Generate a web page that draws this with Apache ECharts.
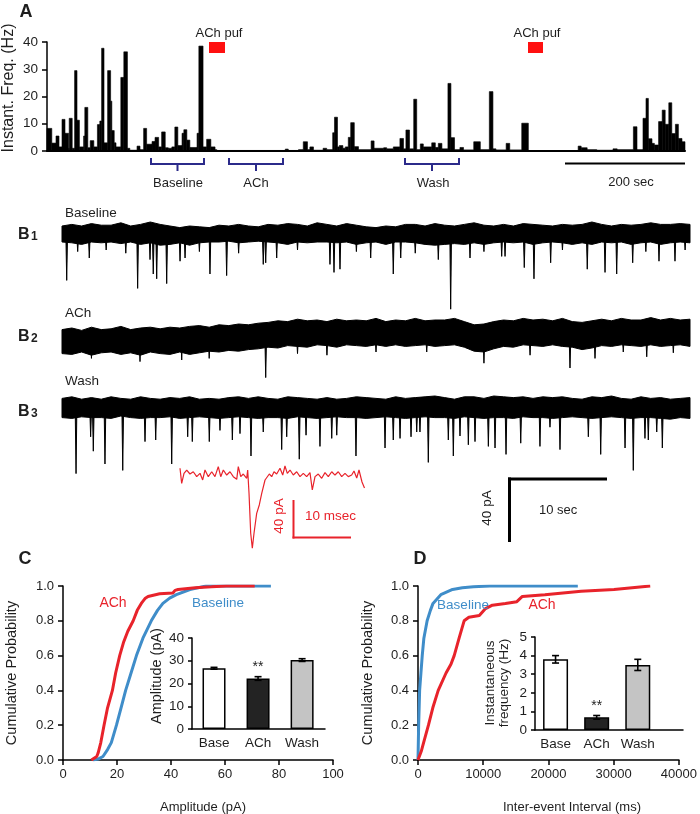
<!DOCTYPE html>
<html><head><meta charset="utf-8">
<script src="https://cdn.jsdelivr.net/npm/echarts@6/dist/echarts.min.js"></script>
<style>html,body{margin:0;padding:0;background:#fff}#c{width:700px;height:814px}</style>
</head><body><div id="c"></div>
<script>
// ---------- DATA ----------
// Panel A: instantaneous frequency steps [time (s), Hz] (value holds until next time)
const freqSteps = [[0,8.3],[8,2.9],[15,5.5],[20,1.5],[25,11.6],[30,6.5],[36,1.0],[37,12],[42,1.0],[46,29.5],[50,11.3],[54,1.5],[61,5.5],[63,16],[68,1.2],[72,3.8],[78,1.5],[84,9.7],[88,11],[91,37.7],[95,3],[101,29.5],[106,18.3],[108,7.5],[112,3],[115,1.5],[123,27],[128,36.4],[134,1],[138,0.3],[150,1.8],[155,0.5],[161,8.3],[166,2.5],[175,3.5],[180,5],[186,1.5],[191,7],[197,1.2],[202,1],[208,1.5],[213,8.8],[218,2],[225,6.5],[228,7.8],[233,4],[238,1.3],[250,6.5],[253,38.5],[260,1.5],[266,4.3],[273,1.5],[280,0.5],[283,0.2],[397,0.7],[402,0.2],[419,0.5],[427,3.4],[434,0.5],[438,1.5],[444,0.3],[460,1],[466,0.5],[476,6.7],[479,12.4],[484,1.5],[487,2],[493,1],[497,1.5],[502,5],[506,10.4],[512,1.6],[519,0.5],[540,3.7],[545,1],[561,1.2],[566,0.8],[577,1.5],[588,4.6],[594,0.8],[598,7.7],[604,0.8],[611,19],[616,0.5],[622,2.6],[627,1.5],[641,3],[647,1.3],[652,2.8],[658,0.8],[668,24.8],[673,4.9],[679,0.5],[688,1.3],[694,0.4],[711,3.4],[722,0.5],[737,21.8],[743,0.8],[748,0.4],[765,2.8],[771,0.4],[791,10.2],[802,0.1],[885,1.8],[890,1.2],[900,0.5],[916,0.3],[943,0.8],[950,0.5],[977,8.9],[983,0.5],[993,12],[998,19.3],[1002,4.5],[1008,2.8],[1012,2.2],[1019,10.8],[1025,15],[1030,9.8],[1036,17.7],[1041,6.4],[1047,9.8],[1052,4.6],[1058,3.4],[1063,0]];

// Panel B traces: noise envelope (pA) sampled every 1 s (0..64 s), events [time s, peak pA]
const b1Upper = [5,6,5,6.5,5.5,5.5,7,5,6,7.5,6,5,4,5,4.5,4,5.5,5,6,5,4.5,6,5.5,6.5,6,5,7,6,5,6.5,5.5,4.5,4,5,4.5,6,6,5,6.5,5.5,5,6,7,5.5,5,6,5,6.5,6,5.5,5,6,5.5,6,7.5,6,5,6,5.5,6,7,6,6,6.5,6];
const b1Lower = [-5,-5.5,-6.5,-5,-5.5,-5,-6,-5,-6.5,-5.5,-7,-6.5,-5.5,-7,-5.5,-5,-5,-4.5,-5.5,-5,-4.5,-5,-5.5,-6.5,-5,-5.5,-5,-5,-5.5,-5,-6.5,-5.5,-5,-6.5,-5,-5,-5.5,-6.5,-7,-6.5,-6,-6.5,-5.5,-6.5,-5.5,-5,-5.5,-5,-6.5,-5.5,-5,-5.5,-6.5,-5.5,-6.5,-5,-5.5,-5,-6.5,-5.5,-5,-6.5,-5.5,-5,-5.5];
const b1Events = [[0.48,-29],[1.6,-11],[2.78,-15],[4.5,-10],[6.5,-12],[7.71,-34],[8.97,-16],[9.3,-25],[9.65,-28],[10.67,-31],[12.03,-17],[12.54,-15],[14,-11],[15.08,-25],[16.78,-26],[18,-12],[20.51,-19],[20.76,-18],[21.88,-15],[24,-10],[27.31,-19],[27.72,-24],[28.33,-22],[30,-11],[31.46,-15],[33.76,-25],[34.52,-15],[36,-12],[38.35,-16],[39.61,-47],[41.58,-15],[43,-11],[44.81,-14],[45.15,-14],[47.11,-21],[48.1,-28],[49.8,-18],[51,-10],[53.53,-22],[55.34,-24],[56.53,-25],[58.16,-18],[59.5,-11],[60.84,-17],[62.47,-17],[63.5,-10]];

const b2Upper = [4,5,3.5,5.5,4,4.5,6,4,5,5.5,4.5,5.5,5,6,6.5,5.5,7,6.5,7.5,7,8,8.5,9.5,9,10.5,9.5,10,9,10.5,9.5,10,9.5,11,9,10,9.5,11,9.5,10,10,11,9,7,7.5,9,10,9.5,11,10,10.5,9.5,11,9,8.5,9.5,10.5,9.5,11,10,10,11.5,10,11,10,10.5];
const b2Lower = [-11,-11.5,-10,-12,-10.5,-10,-11.5,-10.5,-12,-10,-11,-11.5,-10,-11.5,-10.5,-9.5,-10,-9,-9.5,-8.5,-8,-7,-7.5,-6,-6.5,-7,-5.5,-6,-7,-5.5,-6,-6.5,-5.5,-6.5,-5.5,-6.5,-6,-5.5,-6.5,-6,-5.5,-7,-9.5,-10,-8,-6.5,-7,-5.5,-6,-6.5,-5.5,-6.5,-7,-8.5,-7.5,-6,-6.5,-5.5,-6,-6.5,-5.5,-6.5,-6,-5.5,-6.5];
const b2Events = [[3,-14],[7.95,-16],[12.2,-15],[15,-14],[20.76,-26],[24,-11],[27,-12],[32,-10],[37.17,-10],[43,-17],[47.7,-12],[51.77,-20],[54.32,-14],[57.2,-10],[59.59,-13],[62.3,-10.5]];

const b3Upper = [6,7,5.5,6.5,5.5,7,6,5.5,7,6,5.5,6.5,6,7,5.5,6,5.5,6.5,7,6,7,6,5.5,7,6.5,6,5.5,6.5,5.5,6,7,6.5,6,5.5,7,6,6.5,7,7.5,6.5,5.5,7,7,6,7.5,7,6.5,7,6,7,6.5,7,6,5.5,7,6.5,7.5,6,5.5,7,6,6.5,5.5,6,6.5];
const b3Lower = [-6,-6.5,-5.5,-6,-6,-6.5,-5,-6,-6.5,-6,-6,-5.5,-6.5,-6,-5.5,-6,-6.5,-6,-5.5,-6,-6.5,-6,-6,-6.5,-5.5,-6,-6.5,-6,-5.5,-6,-6,-6.5,-6,-5.5,-6,-6.5,-6,-5.5,-6,-6,-6.5,-5.5,-6,-6.5,-6,-6,-6.5,-5.5,-6,-6,-6.5,-6,-5.5,-6,-6.5,-6,-5.5,-6,-6.5,-6,-6,-6.5,-7,-6,-6.5];
const b3Events = [[1.43,-41],[2.92,-18],[3.19,-27],[4.38,-35],[6.19,-39],[8.46,-21],[9.55,-20],[11.18,-35],[12.81,-18],[13.28,-21],[15.01,-21],[16.1,-14],[17.36,-20],[18.14,-16],[19.26,-30],[20.51,-15],[22.39,-26],[22.9,-18],[24.18,-32],[24.87,-17],[26.29,-24],[27.49,-19],[28,-17],[29.96,-30],[32.92,-25],[33.76,-20],[34.45,-19],[35.57,-18],[36.15,-15],[36.48,-15],[37.33,-34],[39.37,-20],[39.88,-30],[40.56,-17.5],[41.41,-23],[42.09,-21],[43.45,-24],[44.13,-25],[45.25,-29],[46.75,-22],[48.71,-24],[49.73,-12],[50.75,-26],[53.64,-18],[54.9,-29],[57.38,-25],[58.22,-39],[59.41,-19],[59.75,-20],[60.61,-15],[61.18,-25]];

// Single averaged event (red): [time ms, current pA]
const redTrace = [[0,6],[0.29,-9.8],[0.69,0.7],[1.16,4.2],[1.72,0],[2.29,2.4],[2.88,-2.8],[3.45,0.7],[3.91,-6.3],[4.31,4.2],[4.88,-2.8],[5.47,2.4],[6.03,-2.8],[6.6,7.7],[7.02,-2.8],[7.47,4.2],[8.05,-1.1],[8.62,2.4],[9.19,-2.8],[9.78,-5.6],[10.05,7.7],[10.47,-2.8],[10.91,0],[11.5,-4.5],[11.67,4.2],[11.9,-20.3],[12.19,-62.4],[12.47,-78.2],[12.76,-62.4],[13.22,-41.4],[13.67,-32.6],[14.09,-20.3],[14.66,-6.3],[14.95,-8.1],[15.4,0],[15.81,-2.8],[16.21,2.4],[16.67,0],[17.24,6],[17.71,-1.1],[18.1,8.4],[18.5,0.7],[18.97,4.2],[19.53,-1.1],[20.12,2.4],[20.69,-2.8],[21.26,0.7],[21.84,-2.8],[22.41,1.4],[22.81,-16.8],[23.28,-2.8],[23.84,0],[24.43,-4.5],[25,1.4],[25.57,-2.8],[26.16,2.4],[26.72,-1.1],[27.29,2.4],[27.88,-2.8],[28.45,0.7],[29.02,-2.8],[29.6,-1.1],[30,3.2],[30.47,-4.2],[30.86,4.2],[31.38,-8.4],[31.81,-14.7]];

// Panel C: cumulative amplitude distributions [pA, probability]
const ampBaseline = [[11.1,0],[13,0.005],[14.8,0.02],[16.5,0.06],[17.9,0.1],[19.8,0.2],[21.5,0.3],[23.2,0.4],[25.2,0.5],[27.2,0.6],[29.6,0.7],[32.7,0.8],[35,0.86],[37,0.9],[39.5,0.93],[42,0.95],[47,0.98],[53,1.0],[77,1.0]];
const ampACh = [[10.5,0],[12.5,0.02],[13,0.04],[14,0.1],[15.2,0.2],[16.5,0.3],[18.3,0.4],[19.5,0.5],[21,0.6],[22.5,0.68],[24,0.74],[26,0.8],[27.5,0.86],[29,0.9],[30.5,0.93],[31.5,0.94],[35.8,0.955],[40.7,0.96],[41.5,0.975],[42.6,0.98],[49,0.99],[55,0.995],[60.5,1.0],[71,1.0]];
// Panel D: cumulative inter-event interval distributions [ms, probability]
const ieiBaseline = [[0,0],[50,0.1],[100,0.2],[250,0.4],[450,0.5],[650,0.6],[900,0.7],[1400,0.8],[1900,0.86],[2300,0.9],[3500,0.95],[5300,0.98],[6800,0.99],[8500,0.995],[11000,1.0],[24500,1.0]];
const ieiACh = [[0,0],[500,0.05],[860,0.1],[1600,0.2],[2270,0.3],[3100,0.4],[4300,0.5],[5050,0.55],[5550,0.6],[6300,0.7],[7070,0.8],[7800,0.82],[9400,0.83],[10350,0.87],[11400,0.89],[13400,0.9],[15150,0.91],[16000,0.94],[19450,0.95],[25000,0.97],[30050,0.98],[35600,1.0]];

// Inset bar charts
const insetCats = ['Base', 'ACh', 'Wash'];
const ampMean = [26.7, 22.2, 30.3];
const ampErr = [0.4, 0.8, 0.6];
const freqMean = [3.8, 0.68, 3.5];
const freqErr = [0.2, 0.1, 0.3];
const sigLabel = ['', '**', ''];

// ---------- STYLE ----------
const FONT = "'Liberation Sans', Arial, Helvetica, sans-serif";
const TXT = '#1e1e1e';
const RED = '#e8232b';
const BLUE = '#3f8dc9';
const NAVY = '#2b2a8a';
const barFill = ['#ffffff', '#232323', '#c4c4c4'];

function txt(text, x, y, o) {
  o = o || {};
  return {type:'text', x:x, y:y, rotation:o.rot||0, z:100,
    style:{text:text, fill:o.color||TXT, font:(o.bold?'bold ':'')+(o.size||13)+'px '+FONT,
      align:o.align||'center', verticalAlign:o.va||'middle'}};
}
function ln(x1,y1,x2,y2,w,c){ return {type:'line', z:100, shape:{x1:x1,y1:y1,x2:x2,y2:y2}, style:{stroke:c||'#000', lineWidth:w||1.5}}; }
function pl(points,w,c){ return {type:'polyline', z:100, shape:{points:points}, style:{stroke:c, lineWidth:w, fill:null}}; }
function bracket(x1,x2){ const xm=(x1+x2)/2; return [pl([[x1,158],[x1,164],[x2,164],[x2,158]],2,NAVY), ln(xm,164,xm,171,2,NAVY)]; }

const axLine = {show:true, lineStyle:{color:'#000', width:1.5}};
const axTick = {show:true, length:5, lineStyle:{color:'#000', width:1.5}};
function lab(extra){ return Object.assign({color:TXT, fontSize:13, fontFamily:FONT}, extra||{}); }

function bandSeries(idx, upper, lower){
  return {type:'custom', xAxisIndex:idx, yAxisIndex:idx, silent:true,
    data: upper.map((v,i)=>[i,v]),
    renderItem: function(params, api){
      if (params.dataIndex !== 0) return null;
      const pts = [];
      for (let i=0;i<upper.length;i++) pts.push(api.coord([i, upper[i]]));
      for (let i=lower.length-1;i>=0;i--) pts.push(api.coord([i, lower[i]]));
      return {type:'polygon', shape:{points:pts}, style:{fill:'#000', stroke:'#000', lineWidth:1}};
    }};
}
function eventSeries(idx, events){
  return {type:'custom', xAxisIndex:idx, yAxisIndex:idx, silent:true, data:events,
    renderItem: function(params, api){
      const t = api.value(0), a = api.value(1);
      const p0 = api.coord([t, -2]), p1 = api.coord([t, a]);
      return {type:'polygon', shape:{points:[[p0[0]-0.8,p0[1]],[p1[0],p1[1]],[p0[0]+0.8,p0[1]]]},
        style:{fill:'#000', stroke:'#000', lineWidth:1}};
    }};
}
function errSeries(idx, means, errs){
  return {type:'custom', xAxisIndex:idx, yAxisIndex:idx, silent:true, z:5,
    data: means.map((m,i)=>[i+0.5, m, errs[i]]),
    encode:{x:0, y:1},
    renderItem: function(params, api){
      const x = api.value(0), m = api.value(1), e = api.value(2);
      const t = api.coord([x, m+e]), b = api.coord([x, m-e]);
      const cw = 3.5, st = {stroke:'#000', lineWidth:1.6};
      return {type:'group', children:[
        {type:'line', shape:{x1:t[0],y1:t[1],x2:b[0],y2:b[1]}, style:st},
        {type:'line', shape:{x1:t[0]-cw,y1:t[1],x2:t[0]+cw,y2:t[1]}, style:st},
        {type:'line', shape:{x1:b[0]-cw,y1:b[1],x2:b[0]+cw,y2:b[1]}, style:st}]};
    }};
}
function barSeries(idx, means, width){
  return {type:'bar', xAxisIndex:idx, yAxisIndex:idx, barWidth:width, silent:true, z:3,
    data: means.map((m,i)=>({value:[i+0.5, m], itemStyle:{color:barFill[i], borderColor:'#000', borderWidth:1.5},
      label:{show:!!sigLabel[i], position:'top', distance:4, formatter:sigLabel[i], fontSize:14, color:TXT, fontFamily:FONT}}))};
}
function catAxis(idx, max){
  return {gridIndex:idx, type:'value', min:0, max:max, axisLine:axLine, axisTick:{show:false}, splitLine:{show:false},
    axisLabel: lab({margin:7, fontSize:13.5, customValues: insetCats.map((c,i)=>i+0.5), formatter: v => insetCats[Math.floor(v)] || ''})};
}

const chart = echarts.init(document.getElementById('c'), null, {renderer:'canvas'});
const graphics = [
  txt('A', 26, 12, {bold:true, size:18}),
  txt('Instant. Freq. (Hz)', 9, 88, {rot:Math.PI/2, size:16}),
  txt('ACh puf', 219, 33), {type:'rect', z:100, shape:{x:209, y:42, width:16, height:11}, style:{fill:'#ff1010'}},
  txt('ACh puf', 537, 33), {type:'rect', z:100, shape:{x:528, y:42, width:15, height:11}, style:{fill:'#ff1010'}},
  ...bracket(151,204), txt('Baseline', 178, 183),
  ...bracket(229,283), txt('ACh', 256, 183),
  ...bracket(405,459), txt('Wash', 433, 183),
  ln(565,163.5,685,163.5,2), txt('200 sec', 631, 182),
  txt('Baseline', 65, 213, {align:'left', size:13.5}),
  txt('ACh', 65, 313, {align:'left', size:13.5}),
  txt('Wash', 65, 381, {align:'left', size:13.5}),
  txt('B', 18, 243, {align:'left', va:'bottom', bold:true, size:16}), txt('1', 31, 242.5, {align:'left', va:'bottom', bold:true, size:12}),
  txt('B', 18, 345, {align:'left', va:'bottom', bold:true, size:16}), txt('2', 31, 344.5, {align:'left', va:'bottom', bold:true, size:12}),
  txt('B', 18, 420, {align:'left', va:'bottom', bold:true, size:16}), txt('3', 31, 419.5, {align:'left', va:'bottom', bold:true, size:12}),
  // black scale bar
  ln(509.5,477.5,509.5,542,3), ln(508,479,607,479,3),
  txt('40 pA', 487, 508, {rot:Math.PI/2, size:13.5}), txt('10 sec', 539, 510, {align:'left'}),
  // red scale bar
  ln(293.5,500,293.5,538.5,2,RED), ln(292.5,537.5,351,537.5,2,RED),
  txt('40 pA', 279, 516, {rot:Math.PI/2, color:RED, size:13.5}), txt('10 msec', 305, 516, {align:'left', color:RED, size:13.5}),
  // C
  txt('C', 25, 559, {bold:true, size:18}),
  txt('Cumulative Probability', 12, 673, {rot:Math.PI/2, size:14.5}),
  txt('Amplitude (pA)', 203, 807),
  txt('ACh', 113, 603, {color:RED, size:14}), txt('Baseline', 218, 603, {color:BLUE, size:13.5}),
  txt('Amplitude (pA)', 157, 676, {rot:Math.PI/2, size:14.5}),
  // D
  txt('D', 420, 559, {bold:true, size:18}),
  txt('Cumulative Probability', 368, 673, {rot:Math.PI/2, size:14.5}),
  txt('Inter-event Interval (ms)', 572, 807),
  txt('Baseline', 463, 605, {color:BLUE, size:13.5}), txt('ACh', 542, 605, {color:RED, size:14}),
  txt('Instantaneous', 490, 683, {rot:Math.PI/2, size:13.5}),
  txt('frequency (Hz)', 504, 683, {rot:Math.PI/2, size:13.5})
];

chart.setOption({
  animation:false,
  textStyle:{fontFamily:FONT},
  grid:[
    {left:47, top:42, width:638, height:109},
    {left:62, top:210, width:628, height:120},
    {left:62, top:304, width:628, height:88},
    {left:62, top:384, width:628, height:96},
    {left:180, top:455, width:185.6, height:100},
    {left:63, top:586, width:270, height:174},
    {left:192, top:638, width:133, height:91},
    {left:418, top:586, width:266, height:174},
    {left:535, top:637, width:148, height:93}
  ],
  xAxis:[
    {gridIndex:0, type:'value', min:0, max:1063, axisLine:{show:true, lineStyle:{color:'#000', width:2}}, axisTick:{show:false}, axisLabel:{show:false}, splitLine:{show:false}},
    {gridIndex:1, type:'value', min:0, max:64, show:false},
    {gridIndex:2, type:'value', min:0, max:64, show:false},
    {gridIndex:3, type:'value', min:0, max:64, show:false},
    {gridIndex:4, type:'value', min:0, max:32, show:false},
    {gridIndex:5, type:'value', min:0, max:100, interval:20, axisLine:axLine, axisTick:axTick, splitLine:{show:false}, axisLabel:lab({margin:8})},
    catAxis(6, 3.02),
    {gridIndex:7, type:'value', min:0, max:40000, interval:10000, axisLine:axLine, axisTick:axTick, splitLine:{show:false}, axisLabel:lab({margin:8, formatter:v=>String(v)})},
    catAxis(8, 3.6)
  ],
  yAxis:[
    {gridIndex:0, type:'value', min:0, max:40, interval:10, axisLine:axLine, axisTick:axTick, splitLine:{show:false}, axisLabel:lab({margin:9, fontSize:13.5})},
    {gridIndex:1, type:'value', min:-60, max:15, show:false},
    {gridIndex:2, type:'value', min:-35, max:20, show:false},
    {gridIndex:3, type:'value', min:-45, max:15, show:false},
    {gridIndex:4, type:'value', min:-85.26, max:20, show:false},
    {gridIndex:5, type:'value', min:0, max:1, interval:0.2, axisLine:axLine, axisTick:axTick, splitLine:{show:false}, axisLabel:lab({margin:9, formatter:v=>v.toFixed(1)})},
    {gridIndex:6, type:'value', min:0, max:40, interval:10, axisLine:axLine, axisTick:{show:true, length:4, lineStyle:{color:'#000', width:1.5}}, splitLine:{show:false}, axisLabel:lab({margin:8, fontSize:13.5})},
    {gridIndex:7, type:'value', min:0, max:1, interval:0.2, axisLine:axLine, axisTick:axTick, splitLine:{show:false}, axisLabel:lab({margin:9, formatter:v=>v.toFixed(1)})},
    {gridIndex:8, type:'value', min:0, max:5, interval:1, axisLine:axLine, axisTick:{show:true, length:4, lineStyle:{color:'#000', width:1.5}}, splitLine:{show:false}, axisLabel:lab({margin:8, fontSize:13.5})}
  ],
  series:[
    {type:'custom', xAxisIndex:0, yAxisIndex:0, silent:true, data:freqSteps.slice(0, -1), encode:{x:0, y:1},
      renderItem: function(params, api){
        const i = params.dataIndex;
        const p0 = api.coord([api.value(0), api.value(1)]);
        const p1 = api.coord([freqSteps[i+1][0], 0]);
        return {type:'rect', shape:{x:p0[0], y:p0[1], width:p1[0]-p0[0], height:p1[1]-p0[1]},
          style:{fill:'#000', stroke:'#000', lineWidth:0.6}};
      }},
    bandSeries(1, b1Upper, b1Lower), eventSeries(1, b1Events),
    bandSeries(2, b2Upper, b2Lower), eventSeries(2, b2Events),
    bandSeries(3, b3Upper, b3Lower), eventSeries(3, b3Events),
    {type:'line', xAxisIndex:4, yAxisIndex:4, data:redTrace, symbol:'none', silent:true, lineStyle:{color:RED, width:1.2}},
    {type:'line', xAxisIndex:5, yAxisIndex:5, data:ampBaseline, symbol:'none', silent:true, lineStyle:{color:BLUE, width:3}},
    {type:'line', xAxisIndex:5, yAxisIndex:5, data:ampACh, symbol:'none', silent:true, lineStyle:{color:RED, width:3}},
    barSeries(6, ampMean, 23), errSeries(6, ampMean, ampErr),
    {type:'line', xAxisIndex:7, yAxisIndex:7, data:ieiBaseline, symbol:'none', silent:true, lineStyle:{color:BLUE, width:3}},
    {type:'line', xAxisIndex:7, yAxisIndex:7, data:ieiACh, symbol:'none', silent:true, lineStyle:{color:RED, width:3}},
    barSeries(8, freqMean, 25), errSeries(8, freqMean, freqErr)
  ],
  graphic: graphics
});
</script></body></html>
